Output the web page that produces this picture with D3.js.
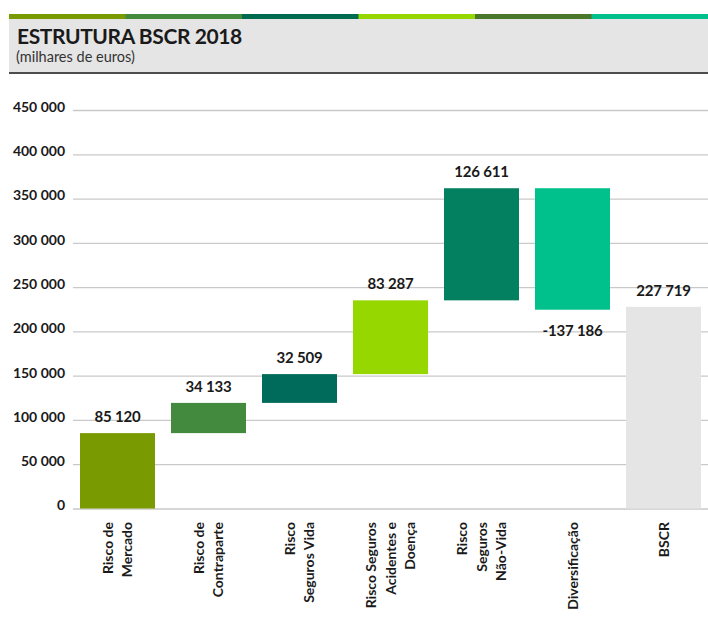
<!DOCTYPE html>
<html>
<head>
<meta charset="utf-8">
<script src="https://cdn.jsdelivr.net/npm/d3@7"></script>
<style>
  body { margin: 0; background: #fff; }
  svg { display: block; font-family: Lato, "Open Sans", sans-serif; }
</style>
</head>
<body>
<svg width="708" height="640"></svg>
<script>
// categories (x labels, one entry per line)
const categories = [
  ['Risco de', 'Mercado'],
  ['Risco de', 'Contraparte'],
  ['Risco', 'Seguros Vida'],
  ['Risco Seguros', 'Acidentes e', 'Doença'],
  ['Risco', 'Seguros', 'Não-Vida'],
  ['Diversificação'],
  ['BSCR']
];
// values in thousands of euros; last one is the total
const values = [85120, 34133, 32509, 83287, 126611, -137186, 227719];
const isTotal = [false, false, false, false, false, false, true];
const barColors = ['#7a9a01', '#448a3e', '#006b5a', '#97d700', '#038060', '#00c08b', '#e5e5e5'];
const yTicks = [0, 50000, 100000, 150000, 200000, 250000, 300000, 350000, 400000, 450000];
const stripColors = ['#7a9a01', '#448a3e', '#006b4f', '#97d700', '#4a7729', '#00c08b'];

const svg = d3.select('svg');

// header: coloured strip + grey box
const strip = d3.scaleBand().domain(d3.range(stripColors.length)).range([9, 708]);
svg.selectAll('.strip').data(stripColors).enter()
  .append('rect')
  .attr('x', (d, i) => strip(i))
  .attr('y', 14)
  .attr('width', strip.bandwidth() + 0.5)
  .attr('height', 5)
  .attr('fill', d => d);

svg.append('rect').attr('x', 9).attr('y', 19).attr('width', 699).attr('height', 53).attr('fill', '#e5e5e5');
svg.append('rect').attr('x', 9).attr('y', 72).attr('width', 699).attr('height', 2).attr('fill', '#4d4d4d');

svg.append('text').attr('x', 17).attr('y', 44)
  .attr('font-size', 21).attr('font-weight', 'bold').attr('fill', '#1a1a1a')
  .attr('letter-spacing', -0.4)
  .text('ESTRUTURA BSCR 2018');
svg.append('text').attr('x', 16).attr('y', 62)
  .attr('font-size', 14.5).attr('fill', '#333')
  .text('(milhares de euros)');

// waterfall start/end
let run = 0;
const bars = values.map((v, i) => {
  let start, end;
  if (isTotal[i]) { start = 0; end = v; run = v; }
  else { start = run; end = run + v; run = end; }
  return { i, v, lo: Math.min(start, end), hi: Math.max(start, end) };
});

const x = d3.scaleBand().domain(d3.range(categories.length))
  .range([72, 709]).paddingInner(16 / 91).paddingOuter(8 / 91);
const y = d3.scaleLinear().domain([0, 450000]).range([508.5, 110]);

// grid + tick labels ("85 120", plain hyphen for negatives)
const fmt = d => d3.format(',')(d).replace(/,/g, ' ').replace('\u2212', '-');
const yAxis = d3.axisLeft(y).tickValues(yTicks).tickSize(-635).tickFormat(fmt).tickPadding(8);
const gy = svg.append('g').attr('transform', 'translate(73,0)').call(yAxis);
gy.select('.domain').remove();
gy.selectAll('.tick line').attr('stroke', '#c9c9c9').attr('stroke-width', 1.3);
gy.selectAll('.tick text')
  .attr('font-size', 14).attr('font-weight', 'bold').attr('fill', '#1a1a1a')
  .attr('font-family', 'Lato, sans-serif')
  .attr('x', -8).attr('dy', '0.1em');

// bars
svg.selectAll('.bar').data(bars).enter()
  .append('rect')
  .attr('x', d => x(d.i))
  .attr('y', d => y(d.hi))
  .attr('width', x.bandwidth())
  .attr('height', d => y(d.lo) - y(d.hi))
  .attr('fill', d => barColors[d.i]);

// value labels
svg.selectAll('.val').data(bars).enter()
  .append('text')
  .attr('x', d => x(d.i) + x.bandwidth() / 2)
  .attr('y', d => d.v < 0 ? y(d.lo) + 26 : y(d.hi) - 11)
  .attr('text-anchor', 'middle')
  .attr('font-size', 15).attr('font-weight', 'bold').attr('fill', '#1a1a1a')
  .attr('letter-spacing', -0.2)
  .text(d => fmt(d.v));

// rotated category labels
const lh = 19.5;
const cat = svg.selectAll('.cat').data(categories).enter()
  .append('text')
  .attr('transform', (d, i) => `translate(${x(i) + x.bandwidth() / 2},522) rotate(-90)`)
  .attr('text-anchor', 'end')
  .attr('font-size', 14).attr('font-weight', 'bold').attr('fill', '#1a1a1a');
cat.each(function(lines) {
  const t = d3.select(this);
  lines.forEach((s, j) => {
    t.append('tspan').attr('x', 0)
      .attr('y', (j - (lines.length - 1) / 2) * lh)
      .attr('dy', '0.36em')
      .text(s);
  });
});
</script>
</body>
</html>
